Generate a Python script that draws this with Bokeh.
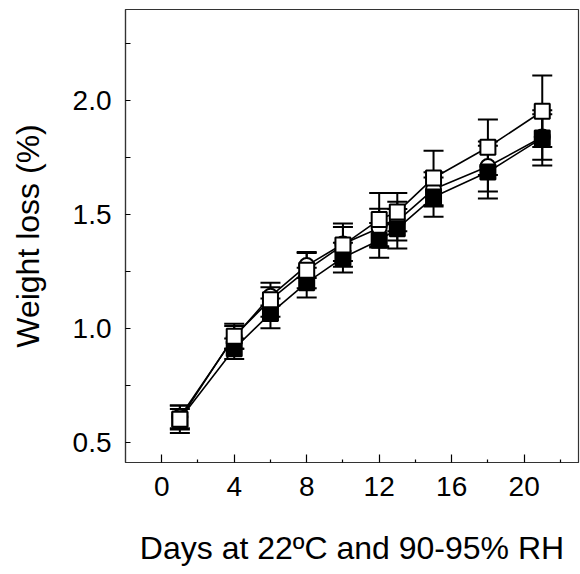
from bokeh.plotting import figure
from bokeh.models import ColumnDataSource, Whisker, TeeHead, FixedTicker, Range1d, PrintfTickFormatter
from bokeh.embed import file_html
from bokeh.resources import INLINE

days = [1, 4, 6, 8, 10, 12, 13, 15, 18, 21]

sq_open = [0.60, 0.965, 1.125, 1.255, 1.365, 1.477, 1.51, 1.66, 1.795, 1.953]
sq_open_err = [0.06, 0.055, 0.075, 0.08, 0.095, 0.117, 0.084, 0.12, 0.122, 0.157]

circ = [0.61, 0.96, 1.14, 1.275, 1.37, 1.44, 1.47, 1.61, 1.71, 1.84]
circ_err = [0.05, 0.05, 0.04, 0.055, 0.075, 0.085, 0.085, 0.075, 0.11, 0.10]

sq_fill = [0.60, 0.91, 1.065, 1.20, 1.31, 1.386, 1.437, 1.576, 1.686, 1.836]
sq_fill_err = [0.045, 0.045, 0.065, 0.065, 0.065, 0.076, 0.087, 0.086, 0.116, 0.121]

x_ticks = [0, 4, 8, 12, 16, 20]
x_minor = [2, 6, 10, 14, 18, 22]
y_ticks = [0.5, 1.0, 1.5, 2.0]
y_minor = [0.75, 1.25, 1.75, 2.25]

FONT = "Liberation Sans"

p = figure(width=580, height=574, output_backend="svg", toolbar_location=None,
           x_range=Range1d(-2, 23), y_range=Range1d(0.41, 2.4),
           min_border_left=125, min_border_right=2, min_border_top=9, min_border_bottom=112)
p.grid.visible = False
p.outline_line_color = "#333333"
p.outline_line_width = 1.2
p.background_fill_color = "white"
p.border_fill_color = "white"

p.xaxis.ticker = FixedTicker(ticks=x_ticks, minor_ticks=x_minor)
p.yaxis.ticker = FixedTicker(ticks=y_ticks, minor_ticks=y_minor)
p.yaxis.formatter = PrintfTickFormatter(format="%.1f")

for ax in (p.xaxis[0], p.yaxis[0]):
    ax.axis_line_color = "#333333"
    ax.axis_line_width = 1.2
    ax.major_tick_out = 0
    ax.minor_tick_out = 0
    ax.major_tick_line_color = "black"
    ax.minor_tick_line_color = "black"
    ax.major_tick_line_width = 1.2
    ax.minor_tick_line_width = 1.2
    ax.major_label_text_font = FONT
    ax.major_label_text_font_size = "28px"
    ax.major_label_text_color = "black"
    ax.axis_label_text_font = FONT
    ax.axis_label_text_font_size = "32px"
    ax.axis_label_text_font_style = "normal"
    ax.axis_label_text_color = "black"

p.xaxis.major_tick_in = 8
p.xaxis.minor_tick_in = 3
p.yaxis.major_tick_in = 5
p.yaxis.minor_tick_in = 5
p.xaxis.major_label_standoff = 14
p.yaxis.major_label_standoff = 14
p.xaxis.axis_label = "Days at 22ºC and 90-95% RH"
p.yaxis.axis_label = "Weight loss (%)"
p.xaxis.axis_label_standoff = 31
p.yaxis.axis_label_standoff = 24

series = [
    (circ, circ_err, "circle", "white"),
    (sq_fill, sq_fill_err, "square", "black"),
    (sq_open, sq_open_err, "square", "white"),
]

for vals, errs, marker, fill in series:
    src = ColumnDataSource(dict(
        x=days, y=vals,
        lo=[v - e for v, e in zip(vals, errs)],
        hi=[v + e for v, e in zip(vals, errs)],
    ))
    w = Whisker(source=src, base="x", lower="lo", upper="hi",
                line_color="black", line_width=2,
                upper_head=TeeHead(size=20, line_color="black", line_width=2),
                lower_head=TeeHead(size=20, line_color="black", line_width=2))
    p.add_layout(w)

for vals, errs, marker, fill in series:
    src = ColumnDataSource(dict(x=days, y=vals))
    p.line("x", "y", source=src, line_color="black", line_width=1.6)

for vals, errs, marker, fill in series:
    src = ColumnDataSource(dict(x=days, y=vals))
    p.scatter("x", "y", source=src, marker=marker, size=15,
              fill_color=fill, line_color="black", line_width=2)

open("out.html", "w").write(file_html(p, INLINE))
